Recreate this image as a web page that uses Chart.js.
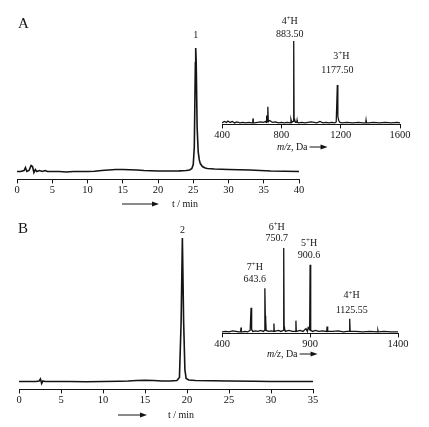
<!DOCTYPE html>
<html>
<head>
<meta charset="utf-8">
<script src="https://cdn.jsdelivr.net/npm/chart.js@4/dist/chart.umd.min.js"></script>
<style>
body { margin: 0; background: #fff; }
#wrap { position: relative; width: 429px; height: 427px; overflow: hidden; background: #fff; }
canvas { position: absolute; }
</style>
</head>
<body>
<div id="wrap">
  <canvas id="chromA" width="320" height="215" style="left:0px;top:0px"></canvas>
  <canvas id="specA" width="224" height="160" style="left:205px;top:0px"></canvas>
  <canvas id="chromB" width="330" height="212" style="left:0px;top:215px"></canvas>
  <canvas id="specB" width="224" height="150" style="left:205px;top:215px"></canvas>
</div>
<script>
// --- panel A chromatogram (t / min, signal)
var timeA   = [0, 0.5, 1, 1.2, 1.4, 1.7, 2, 2.2, 2.4, 2.6, 2.8, 3.2, 3.6, 4, 4.3, 5, 6, 7, 8, 9, 10, 11, 12, 13, 14, 15, 16, 17, 18, 19, 20, 21, 22, 23, 24, 24.5, 24.8, 25, 25.15, 25.3, 25.35, 25.42, 25.55, 25.7, 25.85, 26, 26.3, 26.7, 27, 28, 30, 33, 36, 40];
var signalA = [0, 0, 1, 4, 0, 1, 6, 5, -1, 2, 0, 1, 0, 1, 0, 0, 0, -0.5, 0, 0, 0, 0.3, 1, 1.5, 2, 2, 1.8, 1.5, 1, 0.8, 0.5, 0.5, 0.5, 0.6, 1, 1.5, 3, 7, 25, 110, 125, 110, 45, 20, 12, 8, 5, 3.5, 3, 2.5, 2, 1.5, 0.5, 0];
var ticksA  = [0, 5, 10, 15, 20, 25, 30, 35, 40];

// --- panel A mass spectrum (m/z, intensity)
var mzA  = [400, 415, 430, 440, 455, 470, 485, 500, 520, 540, 560, 580, 600, 607, 609, 611, 618, 640, 660, 680, 695, 698, 700, 702, 705, 708, 710, 712, 715, 722, 740, 760, 780, 800, 820, 840, 860, 865, 870, 878, 881, 883.5, 886, 889, 895, 904, 906, 908, 915, 940, 960, 1000, 1040, 1060, 1080, 1100, 1120, 1140, 1160, 1170, 1175, 1177.5, 1180, 1182, 1187, 1195, 1210, 1240, 1280, 1320, 1350, 1369, 1371, 1373, 1390, 1420, 1460, 1500, 1540, 1580, 1600];
var intA = [1.5, 3, 2, 3.5, 2, 3, 1.5, 2.5, 1.5, 2, 1.5, 2, 1.5, 1.5, 6, 1.5, 1.5, 2, 2.5, 2, 3, 2, 9, 3, 4, 3, 18, 3, 3, 4, 2, 2.5, 1.5, 2, 1.5, 2, 1.5, 5, 2, 3, 3, 85, 6, 5, 2, 2, 4, 2, 1.5, 2, 1.5, 2.5, 1.5, 3, 1.5, 2, 1.5, 2, 1.5, 2.5, 2.5, 40, 12, 8, 4, 2, 1.5, 2, 1.5, 2, 1.5, 1.5, 4, 1.5, 1.5, 2, 1.5, 2, 1.5, 2, 1.5];
var mzTicksA = [400, 800, 1200, 1600];
var ionMzA   = [883.5, 1177.5];
var ionZA    = ['4', '3'];
var ionTextA = ['883.50', '1177.50'];

// --- panel B chromatogram
var timeB   = [0, 1, 2, 2.4, 2.55, 2.7, 2.85, 3.1, 4, 6, 8, 10, 12, 13, 14, 15, 16, 17, 18, 18.8, 19.1, 19.3, 19.45, 19.6, 19.75, 19.9, 20.2, 21, 23, 25, 28, 30, 32, 35];
var signalB = [0, 0, 0, 0.5, 2.5, -2, 0.5, 0, 0, 0, -0.3, 0, 0.3, 0.5, 1, 1.2, 1, 0.5, 0.5, 1, 4, 60, 145, 60, 12, 3, 1.5, 1, 0.7, 0.5, 0.3, 0, 0, 0];
var ticksB  = [0, 5, 10, 15, 20, 25, 30, 35];

// --- panel B mass spectrum
var mzB  = [400, 420, 440, 460, 480, 495, 506, 508, 510, 515, 530, 545, 560, 563, 565, 567, 570, 575, 590, 605, 620, 635, 641, 643.6, 646, 648, 651, 665, 680, 693, 695, 697, 700, 720, 735, 748, 750.7, 753, 755, 760, 780, 800, 818, 820, 822, 825, 845, 860, 877, 885, 890, 898, 900.6, 903, 905, 915, 930, 950, 970, 995, 997, 999, 1002, 1030, 1060, 1090, 1110, 1123, 1125.55, 1128, 1130, 1160, 1200, 1240, 1284, 1286, 1288, 1290, 1320, 1360, 1400];
var intB = [1.5, 2, 1.5, 2.5, 2, 1.5, 1.5, 6, 1.5, 1.5, 2, 1.5, 3, 3, 26, 8, 4, 2, 2.5, 2, 3, 2, 3, 46, 18, 14, 3, 2, 2.5, 2, 10, 2, 2, 3, 2, 3, 87, 7, 5, 2, 3, 2, 2, 13, 2, 2, 3, 2, 5, 2, 6, 4, 70, 3, 3, 2, 3, 2, 2.5, 2, 7, 2, 2, 2, 2.5, 1.5, 2, 2, 15, 2, 2, 2, 1.5, 2, 1.5, 3, 1.5, 1.5, 2, 1.5, 1.5];
var mzTicksB = [400, 900, 1400];
var ionMzB   = [643.6, 750.7, 900.6, 1125.55];
var ionZB    = ['7', '6', '5', '4'];
var ionTextB = ['643.6', '750.7', '900.6', '1125.55'];

var SERIF = '"Liberation Serif", "Times New Roman", serif';
var INK = '#141414';

function arrow(ctx, x1, x2, y) {
    ctx.strokeStyle = INK;
    ctx.fillStyle = INK;
    ctx.lineWidth = 1;
    ctx.beginPath();
    ctx.moveTo(x1, y);
    ctx.lineTo(x2 - 5, y);
    ctx.stroke();
    ctx.beginPath();
    ctx.moveTo(x2, y);
    ctx.lineTo(x2 - 7, y - 2.5);
    ctx.lineTo(x2 - 7, y + 2.5);
    ctx.closePath();
    ctx.fill();
}

function chargeLabel(ctx, cx, cy, z) {
    ctx.font = '10px ' + SERIF;
    var w1 = ctx.measureText(z).width;
    var w3 = ctx.measureText('H').width;
    ctx.font = '7px ' + SERIF;
    var w2 = ctx.measureText('+').width;
    var x = cx - (w1 + w2 + w3) / 2;
    ctx.textAlign = 'left';
    ctx.textBaseline = 'middle';
    ctx.font = '10px ' + SERIF;
    ctx.fillText(z, x, cy);
    ctx.font = '7px ' + SERIF;
    ctx.fillText('+', x + w1, cy - 3);
    ctx.font = '10px ' + SERIF;
    ctx.fillText('H', x + w1 + w2, cy);
}

function mzTitle(ctx, x, y) {
    ctx.fillStyle = INK;
    ctx.textAlign = 'left';
    ctx.textBaseline = 'middle';
    ctx.font = 'italic 10px ' + SERIF;
    ctx.fillText('m/z', x, y);
    var w = ctx.measureText('m/z').width;
    ctx.font = '10px ' + SERIF;
    ctx.fillText(', Da', x + w, y);
    w += ctx.measureText(', Da').width;
    arrow(ctx, x + w + 2, x + w + 20, y);
}

// draws panel letter, peak numbers, axis title and arrows for one canvas
function decorations(fn) {
    return { id: 'deco', afterDraw: function (chart) {
        var ctx = chart.ctx;
        ctx.save();
        ctx.fillStyle = INK;
        fn(ctx, chart.scales.x, chart.scales.y);
        ctx.restore();
    } };
}

function makeChart(id, xs, ys, o) {
    return new Chart(document.getElementById(id), {
        type: 'line',
        data: {
            datasets: [{
                data: xs.map(function (x, i) { return { x: x, y: ys[i] }; }),
                borderColor: INK,
                borderWidth: o.lw,
                pointRadius: 0,
                tension: 0,
                fill: false
            }]
        },
        options: {
            responsive: false,
            animation: false,
            events: [],
            layout: { padding: o.pad },
            plugins: { legend: { display: false }, tooltip: { enabled: false } },
            scales: {
                x: {
                    type: 'linear',
                    min: o.xmin,
                    max: o.xmax,
                    afterBuildTicks: function (s) { s.ticks = o.ticks.map(function (v) { return { value: v }; }); },
                    border: { display: true, color: INK, width: 1 },
                    grid: { drawOnChartArea: false, drawTicks: true, tickLength: 4, color: INK },
                    ticks: {
                        color: INK, font: { family: SERIF, size: 10.5 }, padding: 1, maxRotation: 0, autoSkip: false,
                        callback: function (v) { return String(v); }
                    }
                },
                y: { display: false, min: o.ymin, max: o.ymax }
            }
        },
        plugins: [decorations(o.deco)]
    });
}

makeChart('chromA', timeA, signalA, {
    lw: 1.6, xmin: 0, xmax: 40, ymin: -8, ymax: 130, ticks: ticksA,
    pad: { left: 17, right: 21, top: 43, bottom: 17 },
    deco: function (ctx, x, y) {
        ctx.font = '15px ' + SERIF;
        ctx.textAlign = 'left';
        ctx.textBaseline = 'middle';
        ctx.fillText('A', 18, 24);
        ctx.font = '10px ' + SERIF;
        ctx.textAlign = 'center';
        ctx.fillText('1', x.getPixelForValue(25.35), y.getPixelForValue(125) - 13);
        arrow(ctx, 122, 159, 204);
        ctx.textAlign = 'left';
        ctx.font = '10px ' + SERIF;
        ctx.fillText('t / min', 172, 204);
    }
});

var ionOffA = [[-4, -7, -20], [4, -15, -29]];
makeChart('specA', mzA, intA, {
    lw: 1.3, xmin: 400, xmax: 1600, ymin: 0, ymax: 90, ticks: mzTicksA,
    pad: { left: 17, right: 29, top: 36, bottom: 17 },
    deco: function (ctx, x, y) {
        ionMzA.forEach(function (m, i) {
            var px = x.getPixelForValue(m) + ionOffA[i][0];
            var top = y.getPixelForValue(intA[mzA.indexOf(m)]);
            ctx.font = '10px ' + SERIF;
            ctx.textAlign = 'center';
            ctx.textBaseline = 'middle';
            ctx.fillText(ionTextA[i], px - (i ? 4 : 0), top + ionOffA[i][1]);
            chargeLabel(ctx, px, top + ionOffA[i][2], ionZA[i]);
        });
        mzTitle(ctx, 72, 147);
    }
});

makeChart('chromB', timeB, signalB, {
    lw: 1.6, xmin: 0, xmax: 35, ymin: -8, ymax: 150, ticks: ticksB,
    pad: { left: 19, right: 17, top: 18, bottom: 19 },
    deco: function (ctx, x, y) {
        ctx.font = '15px ' + SERIF;
        ctx.textAlign = 'left';
        ctx.textBaseline = 'middle';
        ctx.fillText('B', 18, 14);
        ctx.font = '10px ' + SERIF;
        ctx.textAlign = 'center';
        ctx.fillText('2', x.getPixelForValue(19.45), y.getPixelForValue(145) - 8);
        arrow(ctx, 118, 147, 200);
        ctx.textAlign = 'left';
        ctx.fillText('t / min', 168, 200);
    }
});

var ionOffB = [[-10, -9, -21], [-7, -10, -21], [-1, -9, -21], [2, -8, -23]];
makeChart('specB', mzB, intB, {
    lw: 1.3, xmin: 400, xmax: 1400, ymin: 0, ymax: 90, ticks: mzTicksB,
    pad: { left: 17, right: 31, top: 30, bottom: 13 },
    deco: function (ctx, x, y) {
        ionMzB.forEach(function (m, i) {
            var px = x.getPixelForValue(m) + ionOffB[i][0];
            var top = y.getPixelForValue(intB[mzB.indexOf(m)]);
            ctx.font = '10px ' + SERIF;
            ctx.textAlign = 'center';
            ctx.textBaseline = 'middle';
            ctx.fillText(ionTextB[i], px, top + ionOffB[i][1]);
            chargeLabel(ctx, px, top + ionOffB[i][2], ionZB[i]);
        });
        mzTitle(ctx, 62, 139);
    }
});
</script>
</body>
</html>
